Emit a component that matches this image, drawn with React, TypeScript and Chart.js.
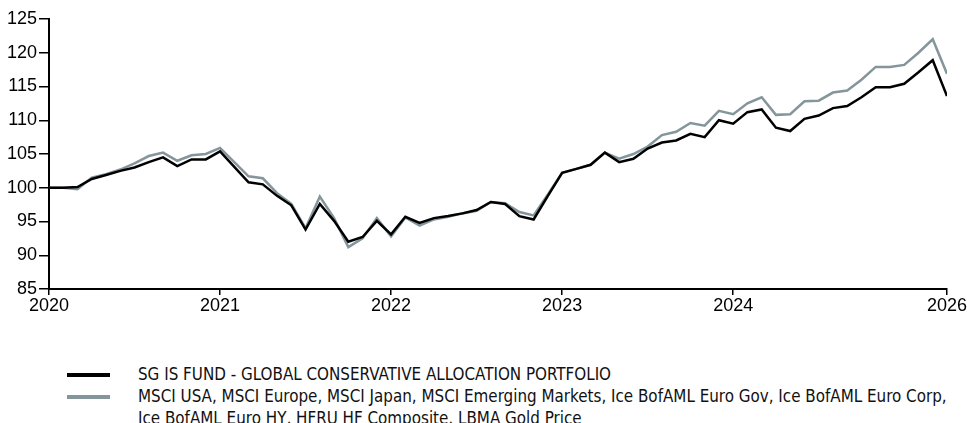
import React, { useEffect, useRef } from 'react';
import { Chart, registerables } from 'chart.js';

Chart.register(...registerables);

// Monthly index values, Jan 2020 (index 0) to the last observation (index 63)
const fundValues = [
  100.0, 100.0, 100.1, 101.3, 101.9, 102.5, 103.0, 103.8, 104.5, 103.2, 104.2, 104.2,
  105.4, 103.1, 100.8, 100.5, 98.8, 97.4, 93.8, 97.6, 95.1, 92.0, 92.7, 95.1,
  93.1, 95.7, 94.8, 95.5, 95.8, 96.2, 96.7, 97.9, 97.6, 95.8, 95.3, 98.8,
  102.2, 102.8, 103.4, 105.2, 103.8, 104.3, 105.8, 106.7, 107.0, 108.0, 107.5, 110.0,
  109.5, 111.2, 111.6, 108.9, 108.4, 110.2, 110.7, 111.8, 112.1, 113.4, 114.9, 114.9,
  115.4, 117.1, 118.9, 113.6,
];

const benchmarkValues = [
  100.0, 100.0, 99.8, 101.5, 102.0, 102.7, 103.6, 104.7, 105.2, 104.0, 104.8, 105.0,
  105.9, 103.8, 101.7, 101.4, 99.2, 97.6, 94.0, 98.7, 95.5, 91.2, 92.5, 95.5,
  92.8, 95.6, 94.4, 95.3, 95.7, 96.2, 96.6, 97.9, 97.7, 96.4, 95.9, 99.0,
  102.2, 102.8, 103.4, 105.2, 104.3, 105.0, 106.1, 107.8, 108.3, 109.6, 109.2, 111.4,
  110.9, 112.5, 113.4, 110.8, 110.9, 112.8, 112.9, 114.1, 114.4, 116.0, 117.9, 117.9,
  118.2, 120.0, 122.0, 116.9,
];

const xTickPositions = [0, 12, 24, 36, 48, 63];
const xTickLabels = ['2020', '2021', '2022', '2023', '2024', '2026'];

const yMin = 85;
const yMax = 125;
const yStep = 5;

const fundName = 'SG IS FUND - GLOBAL CONSERVATIVE ALLOCATION PORTFOLIO';
const benchmarkLine1 =
  'MSCI USA, MSCI Europe, MSCI Japan, MSCI Emerging Markets, Ice BofAML Euro Gov, Ice BofAML Euro Corp,';
const benchmarkLine2 = 'Ice BofAML Euro HY, HFRU HF Composite, LBMA Gold Price';

const BLACK = '#000000';
const GRAY = '#84959b';
const AXIS_FONT = { family: '"Liberation Sans", Arial, sans-serif', size: 18 };

export default function App() {
  const canvasRef = useRef<HTMLCanvasElement>(null);

  useEffect(() => {
    if (!canvasRef.current) return;
    const chart = new Chart(canvasRef.current, {
      type: 'line',
      data: {
        datasets: [
          {
            label: fundName,
            data: fundValues.map((y, i) => ({ x: i, y })),
            borderColor: BLACK,
            borderWidth: 2.5,
            pointRadius: 0,
            tension: 0,
            fill: false,
          },
          {
            label: benchmarkLine1 + ' ' + benchmarkLine2,
            data: benchmarkValues.map((y, i) => ({ x: i, y })),
            borderColor: GRAY,
            borderWidth: 2.5,
            pointRadius: 0,
            tension: 0,
            fill: false,
          },
        ],
      },
      options: {
        animation: false,
        responsive: false,
        devicePixelRatio: 1,
        layout: { padding: { top: 19, right: 20, left: 0, bottom: 0 } },
        plugins: {
          legend: { display: false },
          tooltip: { enabled: false },
        },
        scales: {
          x: {
            type: 'linear',
            min: 0,
            max: 63,
            afterBuildTicks: (scale: any) => {
              scale.ticks = xTickPositions.map((v) => ({ value: v }));
            },
            afterFit: (scale: any) => {
              scale.height = 41;
            },
            ticks: {
              autoSkip: false,
              maxRotation: 0,
              padding: 0,
              color: BLACK,
              font: AXIS_FONT,
              callback: (v: any) => {
                const k = xTickPositions.indexOf(Number(v));
                return k >= 0 ? xTickLabels[k] : '';
              },
            },
            grid: {
              drawOnChartArea: false,
              drawTicks: true,
              tickLength: 6,
              color: BLACK,
              lineWidth: 1.5,
            },
            border: { display: true, color: BLACK, width: 2 },
          },
          y: {
            min: yMin,
            max: yMax,
            afterFit: (scale: any) => {
              scale.width = 49;
            },
            ticks: {
              stepSize: yStep,
              padding: 2,
              color: BLACK,
              font: AXIS_FONT,
            },
            grid: {
              drawOnChartArea: false,
              drawTicks: true,
              tickLength: 10,
              color: BLACK,
              lineWidth: 1.5,
            },
            border: { display: true, color: BLACK, width: 2 },
          },
        },
      },
    });
    return () => chart.destroy();
  }, []);

  const legendText: React.CSSProperties = {
    position: 'absolute',
    left: 138,
    fontFamily: '"Liberation Sans Narrow", "DejaVu Sans Condensed", "Noto Sans", sans-serif',
    fontSize: 16.85,
    lineHeight: '22px',
    color: '#111',
    whiteSpace: 'nowrap',
  };

  return (
    <div style={{ position: 'absolute', left: 0, top: 0, width: 967, height: 423, background: '#fff', overflow: 'hidden' }}>
      <canvas ref={canvasRef} width={967} height={330} style={{ position: 'absolute', left: 0, top: 0 }} />
      <div style={{ position: 'absolute', left: 67, top: 373, width: 43, height: 4, background: BLACK }} />
      <div style={{ ...legendText, top: 363 }}>{fundName}</div>
      <div style={{ position: 'absolute', left: 67, top: 395, width: 43, height: 4, background: GRAY }} />
      <div style={{ ...legendText, top: 385 }}>
        {benchmarkLine1}
        <br />
        {benchmarkLine2}
      </div>
    </div>
  );
}
